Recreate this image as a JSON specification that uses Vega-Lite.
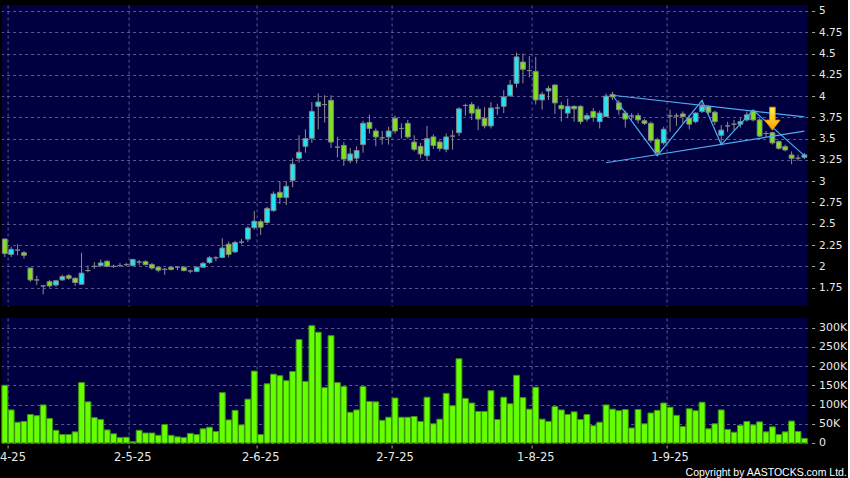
{
"$schema": "https://vega.github.io/schema/vega-lite/v6.json",
"background": "#000000",
"autosize": {"type": "pad"},
"padding": {"left": -12.4, "top": 5, "right": 0, "bottom": 0},
"title": {"text": "Copyright by AASTOCKS.com Ltd.", "orient": "bottom", "anchor": "end", "frame": "bounds", "font": "Liberation Sans", "fontSize": 10.5, "fontWeight": "normal", "color": "#ffffff", "offset": 5},
"datasets": {
"k": [
{"d":"2025-03-31","o":2.32,"h":2.33,"l":2.11,"c":2.15,"v":150000},
{"d":"2025-04-01","o":2.14,"h":2.23,"l":2.11,"c":2.20,"v":86000},
{"d":"2025-04-02","o":2.19,"h":2.26,"l":2.13,"c":2.19,"v":54000},
{"d":"2025-04-03","o":2.16,"h":2.18,"l":2.09,"c":2.13,"v":56000},
{"d":"2025-04-07","o":1.98,"h":1.98,"l":1.82,"c":1.84,"v":74000},
{"d":"2025-04-08","o":1.84,"h":1.89,"l":1.78,"c":1.84,"v":71000},
{"d":"2025-04-09","o":1.77,"h":1.78,"l":1.67,"c":1.77,"v":99000},
{"d":"2025-04-10","o":1.82,"h":1.84,"l":1.75,"c":1.77,"v":64000},
{"d":"2025-04-11","o":1.78,"h":1.84,"l":1.76,"c":1.83,"v":33000},
{"d":"2025-04-14","o":1.84,"h":1.90,"l":1.83,"c":1.88,"v":22000},
{"d":"2025-04-15","o":1.89,"h":1.91,"l":1.84,"c":1.86,"v":22000},
{"d":"2025-04-16","o":1.86,"h":1.87,"l":1.77,"c":1.81,"v":29000},
{"d":"2025-04-17","o":1.79,"h":2.16,"l":1.78,"c":1.92,"v":157000},
{"d":"2025-04-22","o":1.95,"h":2.01,"l":1.93,"c":1.95,"v":107000},
{"d":"2025-04-23","o":2.00,"h":2.05,"l":1.97,"c":2.00,"v":66000},
{"d":"2025-04-24","o":2.01,"h":2.08,"l":1.99,"c":2.04,"v":61000},
{"d":"2025-04-25","o":2.06,"h":2.07,"l":1.99,"c":2.00,"v":34000},
{"d":"2025-04-28","o":2.00,"h":2.02,"l":1.98,"c":2.00,"v":24000},
{"d":"2025-04-29","o":2.01,"h":2.04,"l":1.99,"c":2.01,"v":14000},
{"d":"2025-04-30","o":2.02,"h":2.04,"l":2.00,"c":2.02,"v":15000},
{"d":"2025-05-02","o":2.01,"h":2.09,"l":2.00,"c":2.08,"v":3500},
{"d":"2025-05-06","o":2.05,"h":2.075,"l":2.01,"c":2.05,"v":33000},
{"d":"2025-05-07","o":2.055,"h":2.07,"l":2.01,"c":2.02,"v":26000},
{"d":"2025-05-08","o":2.02,"h":2.04,"l":1.96,"c":1.98,"v":26000},
{"d":"2025-05-09","o":1.99,"h":2.00,"l":1.93,"c":1.955,"v":20000},
{"d":"2025-05-12","o":1.965,"h":1.98,"l":1.90,"c":1.965,"v":48000},
{"d":"2025-05-13","o":1.99,"h":2.00,"l":1.95,"c":1.965,"v":20000},
{"d":"2025-05-14","o":1.99,"h":2.00,"l":1.955,"c":1.99,"v":16000},
{"d":"2025-05-15","o":1.99,"h":2.00,"l":1.94,"c":1.95,"v":14000},
{"d":"2025-05-16","o":1.945,"h":1.96,"l":1.92,"c":1.945,"v":25000},
{"d":"2025-05-19","o":1.94,"h":2.00,"l":1.93,"c":1.99,"v":22000},
{"d":"2025-05-20","o":1.99,"h":2.05,"l":1.985,"c":2.035,"v":37000},
{"d":"2025-05-21","o":2.045,"h":2.12,"l":2.03,"c":2.10,"v":41000},
{"d":"2025-05-22","o":2.10,"h":2.12,"l":2.06,"c":2.10,"v":30000},
{"d":"2025-05-23","o":2.105,"h":2.33,"l":2.095,"c":2.215,"v":131000},
{"d":"2025-05-26","o":2.26,"h":2.29,"l":2.105,"c":2.14,"v":60000},
{"d":"2025-05-27","o":2.17,"h":2.30,"l":2.155,"c":2.28,"v":85000},
{"d":"2025-05-28","o":2.285,"h":2.32,"l":2.26,"c":2.285,"v":47000},
{"d":"2025-05-29","o":2.32,"h":2.47,"l":2.285,"c":2.45,"v":114000},
{"d":"2025-05-30","o":2.455,"h":2.65,"l":2.43,"c":2.53,"v":187000},
{"d":"2025-06-02","o":2.525,"h":2.55,"l":2.37,"c":2.46,"v":22000},
{"d":"2025-06-03","o":2.515,"h":2.70,"l":2.50,"c":2.68,"v":154000},
{"d":"2025-06-04","o":2.655,"h":2.88,"l":2.64,"c":2.85,"v":179000},
{"d":"2025-06-05","o":2.87,"h":3.00,"l":2.73,"c":2.81,"v":175000},
{"d":"2025-06-06","o":2.81,"h":3.00,"l":2.72,"c":2.94,"v":162000},
{"d":"2025-06-09","o":3.01,"h":3.27,"l":2.93,"c":3.20,"v":186000},
{"d":"2025-06-10","o":3.27,"h":3.54,"l":3.22,"c":3.34,"v":269000},
{"d":"2025-06-11","o":3.41,"h":3.61,"l":3.335,"c":3.50,"v":160000},
{"d":"2025-06-12","o":3.505,"h":3.93,"l":3.45,"c":3.82,"v":305000},
{"d":"2025-06-13","o":3.88,"h":4.03,"l":3.61,"c":3.93,"v":288000},
{"d":"2025-06-16","o":3.90,"h":4.01,"l":3.69,"c":3.90,"v":144000},
{"d":"2025-06-17","o":3.95,"h":4.01,"l":3.39,"c":3.46,"v":279000},
{"d":"2025-06-18","o":3.40,"h":3.52,"l":3.28,"c":3.40,"v":157000},
{"d":"2025-06-19","o":3.42,"h":3.46,"l":3.18,"c":3.26,"v":147000},
{"d":"2025-06-20","o":3.24,"h":3.39,"l":3.21,"c":3.32,"v":80000},
{"d":"2025-06-23","o":3.27,"h":3.41,"l":3.21,"c":3.36,"v":86000},
{"d":"2025-06-24","o":3.43,"h":3.71,"l":3.335,"c":3.68,"v":147000},
{"d":"2025-06-25","o":3.69,"h":3.78,"l":3.56,"c":3.62,"v":108000},
{"d":"2025-06-26","o":3.59,"h":3.62,"l":3.41,"c":3.52,"v":107000},
{"d":"2025-06-27","o":3.51,"h":3.59,"l":3.43,"c":3.51,"v":59000},
{"d":"2025-06-30","o":3.52,"h":3.64,"l":3.43,"c":3.59,"v":67000},
{"d":"2025-07-02","o":3.74,"h":3.77,"l":3.56,"c":3.59,"v":117000},
{"d":"2025-07-03","o":3.62,"h":3.68,"l":3.50,"c":3.62,"v":67000},
{"d":"2025-07-04","o":3.68,"h":3.72,"l":3.50,"c":3.52,"v":67000},
{"d":"2025-07-07","o":3.46,"h":3.54,"l":3.35,"c":3.375,"v":69000},
{"d":"2025-07-08","o":3.41,"h":3.45,"l":3.27,"c":3.32,"v":56000},
{"d":"2025-07-09","o":3.30,"h":3.65,"l":3.24,"c":3.50,"v":119000},
{"d":"2025-07-10","o":3.52,"h":3.55,"l":3.38,"c":3.42,"v":50000},
{"d":"2025-07-11","o":3.46,"h":3.48,"l":3.35,"c":3.385,"v":62000},
{"d":"2025-07-14","o":3.375,"h":3.56,"l":3.34,"c":3.52,"v":129000},
{"d":"2025-07-15","o":3.53,"h":3.60,"l":3.37,"c":3.53,"v":97000},
{"d":"2025-07-16","o":3.57,"h":3.87,"l":3.53,"c":3.85,"v":219000},
{"d":"2025-07-17","o":3.89,"h":3.91,"l":3.77,"c":3.89,"v":116000},
{"d":"2025-07-18","o":3.90,"h":3.93,"l":3.72,"c":3.80,"v":104000},
{"d":"2025-07-21","o":3.845,"h":3.88,"l":3.60,"c":3.73,"v":82000},
{"d":"2025-07-22","o":3.74,"h":3.87,"l":3.62,"c":3.65,"v":82000},
{"d":"2025-07-23","o":3.65,"h":3.93,"l":3.62,"c":3.86,"v":136000},
{"d":"2025-07-24","o":3.86,"h":3.91,"l":3.78,"c":3.86,"v":61000},
{"d":"2025-07-25","o":3.88,"h":4.07,"l":3.80,"c":3.99,"v":119000},
{"d":"2025-07-28","o":4.005,"h":4.19,"l":3.99,"c":4.13,"v":102000},
{"d":"2025-07-29","o":4.15,"h":4.51,"l":4.10,"c":4.46,"v":176000},
{"d":"2025-07-30","o":4.40,"h":4.50,"l":4.15,"c":4.315,"v":118000},
{"d":"2025-07-31","o":4.30,"h":4.47,"l":4.22,"c":4.30,"v":88000},
{"d":"2025-08-01","o":4.29,"h":4.46,"l":3.90,"c":3.955,"v":145000},
{"d":"2025-08-04","o":3.955,"h":4.05,"l":3.84,"c":4.02,"v":62000},
{"d":"2025-08-05","o":4.06,"h":4.12,"l":3.955,"c":4.09,"v":56000},
{"d":"2025-08-06","o":4.13,"h":4.14,"l":3.79,"c":3.92,"v":95000},
{"d":"2025-08-07","o":3.89,"h":3.93,"l":3.70,"c":3.85,"v":86000},
{"d":"2025-08-08","o":3.80,"h":3.97,"l":3.74,"c":3.88,"v":74000},
{"d":"2025-08-11","o":3.88,"h":3.89,"l":3.70,"c":3.85,"v":81000},
{"d":"2025-08-12","o":3.88,"h":3.89,"l":3.67,"c":3.70,"v":61000},
{"d":"2025-08-13","o":3.73,"h":3.80,"l":3.70,"c":3.77,"v":74000},
{"d":"2025-08-14","o":3.82,"h":3.86,"l":3.70,"c":3.75,"v":45000},
{"d":"2025-08-15","o":3.70,"h":3.83,"l":3.62,"c":3.80,"v":54000},
{"d":"2025-08-18","o":3.76,"h":4.03,"l":3.76,"c":4.00,"v":99000},
{"d":"2025-08-19","o":4.02,"h":4.05,"l":3.955,"c":3.99,"v":88000},
{"d":"2025-08-20","o":3.92,"h":3.955,"l":3.78,"c":3.84,"v":84000},
{"d":"2025-08-21","o":3.80,"h":3.83,"l":3.63,"c":3.73,"v":87000},
{"d":"2025-08-22","o":3.767,"h":3.80,"l":3.72,"c":3.767,"v":39000},
{"d":"2025-08-25","o":3.77,"h":3.80,"l":3.68,"c":3.72,"v":87000},
{"d":"2025-08-26","o":3.71,"h":3.73,"l":3.66,"c":3.68,"v":50000},
{"d":"2025-08-27","o":3.68,"h":3.70,"l":3.45,"c":3.48,"v":78000},
{"d":"2025-08-28","o":3.49,"h":3.51,"l":3.31,"c":3.335,"v":85000},
{"d":"2025-08-29","o":3.45,"h":3.64,"l":3.43,"c":3.61,"v":104000},
{"d":"2025-09-01","o":3.767,"h":3.84,"l":3.58,"c":3.767,"v":93000},
{"d":"2025-09-02","o":3.767,"h":3.80,"l":3.65,"c":3.767,"v":72000},
{"d":"2025-09-03","o":3.79,"h":3.82,"l":3.68,"c":3.76,"v":43000},
{"d":"2025-09-04","o":3.74,"h":3.78,"l":3.61,"c":3.67,"v":89000},
{"d":"2025-09-05","o":3.70,"h":3.81,"l":3.68,"c":3.80,"v":84000},
{"d":"2025-09-08","o":3.82,"h":3.955,"l":3.80,"c":3.88,"v":106000},
{"d":"2025-09-09","o":3.88,"h":3.89,"l":3.78,"c":3.81,"v":37000},
{"d":"2025-09-10","o":3.81,"h":3.83,"l":3.66,"c":3.70,"v":50000},
{"d":"2025-09-11","o":3.54,"h":3.66,"l":3.45,"c":3.60,"v":86000},
{"d":"2025-09-12","o":3.65,"h":3.70,"l":3.58,"c":3.65,"v":35000},
{"d":"2025-09-15","o":3.67,"h":3.72,"l":3.60,"c":3.67,"v":28000},
{"d":"2025-09-16","o":3.67,"h":3.74,"l":3.63,"c":3.70,"v":46000},
{"d":"2025-09-17","o":3.72,"h":3.82,"l":3.70,"c":3.78,"v":56000},
{"d":"2025-09-18","o":3.825,"h":3.84,"l":3.70,"c":3.72,"v":47000},
{"d":"2025-09-19","o":3.72,"h":3.74,"l":3.52,"c":3.53,"v":55000},
{"d":"2025-09-22","o":3.56,"h":3.59,"l":3.52,"c":3.56,"v":29000},
{"d":"2025-09-23","o":3.57,"h":3.58,"l":3.43,"c":3.45,"v":42000},
{"d":"2025-09-24","o":3.465,"h":3.48,"l":3.37,"c":3.387,"v":22000},
{"d":"2025-09-25","o":3.406,"h":3.43,"l":3.35,"c":3.367,"v":29000},
{"d":"2025-09-26","o":3.308,"h":3.35,"l":3.20,"c":3.27,"v":57000},
{"d":"2025-09-29","o":3.27,"h":3.31,"l":3.24,"c":3.27,"v":30000},
{"d":"2025-09-30","o":3.28,"h":3.33,"l":3.26,"c":3.31,"v":12000}
],
"lines": [
{"d":"2025-08-19","p":4.01,"g":"upper"},
{"d":"2025-09-30","p":3.755,"g":"upper"},
{"d":"2025-08-18","p":3.217,"g":"lower"},
{"d":"2025-09-30","p":3.588,"g":"lower"},
{"d":"2025-08-19","p":4.01,"g":"zigzag"},
{"d":"2025-08-28","p":3.30,"g":"zigzag"},
{"d":"2025-09-08","p":3.95,"g":"zigzag"},
{"d":"2025-09-11","p":3.43,"g":"zigzag"},
{"d":"2025-09-18","p":3.835,"g":"zigzag"},
{"d":"2025-09-30","p":3.30,"g":"zigzag"}
],
"arrow": [
{"d":"2025-09-23","p":3.735}
]
},
"spacing": 12,
"bounds": "flush",
"vconcat": [
{
"width": 806,
"height": 301,
"encoding": {
"x": {"field": "d", "type": "ordinal", "sort": "ascending", "scale": {"paddingInner": 0, "paddingOuter": 0},
"axis": {"values": ["2025-04-01","2025-05-02","2025-06-02","2025-07-02","2025-08-01","2025-09-01"], "bandPosition": 0, "labels": false, "ticks": false, "domain": false, "grid": true, "title": null}}
},
"layer": [
{"data": {"name": "k"}, "mark": {"type": "rule", "color": "#8f8f8f", "strokeWidth": 1},
"encoding": {
"y": {"field": "l", "type": "quantitative", "scale": {"domain": [1.534, 5.07], "nice": false, "zero": false},
"axis": {"orient": "right", "values": [1.75,2,2.25,2.5,2.75,3,3.25,3.5,3.75,4,4.25,4.5,4.75,5], "labelExpr": "datum.value + ''", "title": null, "grid": true, "domain": false, "ticks": true, "tickSize": 3, "offset": 4, "labelPadding": 4, "labelFontSize": 10.5}},
"y2": {"field": "h"}}},
{"data": {"name": "k"}, "mark": {"type": "bar", "width": {"band": 0.75}, "stroke": "#858585", "strokeWidth": 1},
"encoding": {
"y": {"field": "o", "type": "quantitative", "scale": {"domain": [1.534, 5.07], "nice": false, "zero": false},
"axis": {"orient": "right", "values": [1.75,2,2.25,2.5,2.75,3,3.25,3.5,3.75,4,4.25,4.5,4.75,5], "labelExpr": "datum.value + ''", "title": null, "grid": true, "domain": false, "ticks": true, "tickSize": 3, "offset": 4, "labelPadding": 4, "labelFontSize": 10.5}},
"y2": {"field": "c"},
"fill": {"condition": [{"test": "datum.c > datum.o", "value": "#22e4f4"}, {"test": "datum.c < datum.o", "value": "#7ee021"}], "value": "#8f8f8f"}}},
{"data": {"name": "lines"}, "mark": {"type": "line", "color": "#4aaef0", "strokeWidth": 1.2},
"encoding": {
"y": {"field": "p", "type": "quantitative", "scale": {"domain": [1.534, 5.07], "nice": false, "zero": false},
"axis": {"orient": "right", "values": [1.75,2,2.25,2.5,2.75,3,3.25,3.5,3.75,4,4.25,4.5,4.75,5], "labelExpr": "datum.value + ''", "title": null, "grid": true, "domain": false, "ticks": true, "tickSize": 3, "offset": 4, "labelPadding": 4, "labelFontSize": 10.5}},
"detail": {"field": "g"}}},
{"data": {"name": "arrow"}, "mark": {"type": "point", "shape": "M -0.25 -1 L 0.25 -1 L 0.25 0.12 L 0.68 0.12 L 0 1 L -0.68 0.12 L -0.25 0.12 Z", "size": 529, "filled": true, "opacity": 1,
"fill": {"gradient": "linear", "x1": 0, "y1": 0, "x2": 0, "y2": 1, "stops": [{"offset": 0, "color": "#fff24a"}, {"offset": 1, "color": "#ffa000"}]},
"stroke": "#d98500", "strokeWidth": 0.8},
"encoding": {
"y": {"field": "p", "type": "quantitative", "scale": {"domain": [1.534, 5.07], "nice": false, "zero": false},
"axis": {"orient": "right", "values": [1.75,2,2.25,2.5,2.75,3,3.25,3.5,3.75,4,4.25,4.5,4.75,5], "labelExpr": "datum.value + ''", "title": null, "grid": true, "domain": false, "ticks": true, "tickSize": 3, "offset": 4, "labelPadding": 4, "labelFontSize": 10.5}}}}
]
},
{
"width": 806,
"height": 125,
"data": {"name": "k"},
"mark": {"type": "bar", "width": {"band": 0.92}, "fill": "#66ff00", "stroke": "#3c9010", "strokeWidth": 1},
"encoding": {
"x": {"field": "d", "type": "ordinal", "sort": "ascending", "scale": {"paddingInner": 0, "paddingOuter": 0},
"axis": {"values": ["2025-04-01","2025-05-02","2025-06-02","2025-07-02","2025-08-01","2025-09-01"], "bandPosition": 0, "labelExpr": "utcFormat(toDate(datum.value), '%-d-%-m-%y')", "labelAngle": 0, "grid": true, "domain": false, "ticks": true, "tickSize": 3, "offset": 2, "labelPadding": 4, "title": null, "labelOverlap": false, "labelBound": false, "labelFlush": false, "labelFontSize": 11.5,
"labelOffset": {"condition": {"test": "datum.value == '2025-04-01'", "value": -4}, "value": 0}}},
"y": {"field": "v", "type": "quantitative", "scale": {"domain": [0, 325000], "nice": false},
"axis": {"orient": "right", "values": [0,50000,100000,150000,200000,250000,300000], "labelExpr": "datum.value == 0 ? '0' : (datum.value/1000) + 'K'", "title": null, "grid": true, "domain": false, "ticks": true, "tickSize": 3, "offset": 4, "labelPadding": 4, "labelFontSize": 11}}
}
}
],
"config": {
"view": {"stroke": null, "fill": "#000040"},
"axis": {"labelColor": "#e8e8e8", "labelFont": "DejaVu Sans", "gridColor": "#5a5a8e", "gridDash": [3, 3], "gridWidth": 1, "tickColor": "#aaaaaa"}
}
}
